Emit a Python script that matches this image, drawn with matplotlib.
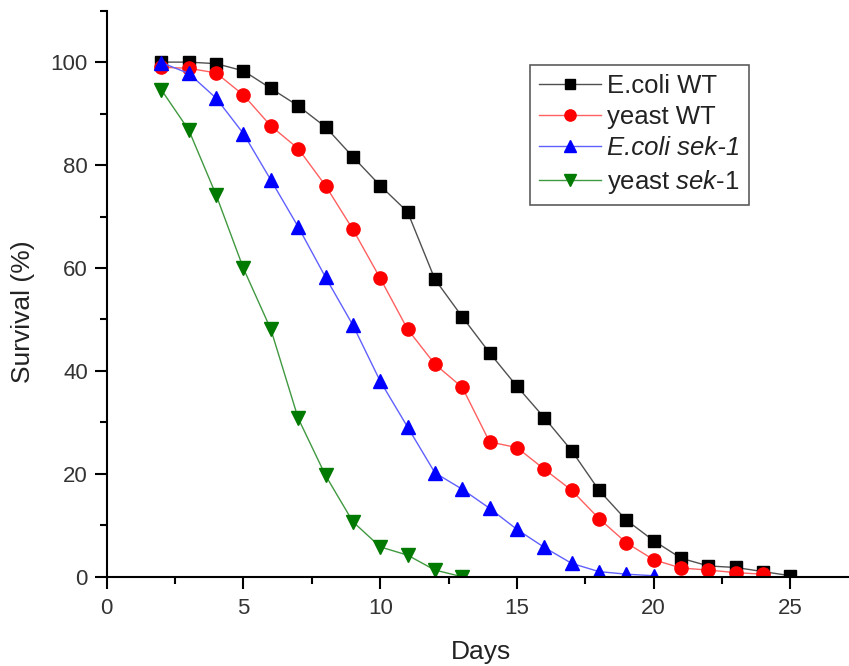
import matplotlib
matplotlib.use('Agg')
import matplotlib.pyplot as plt
from matplotlib.ticker import MultipleLocator

plt.rcParams['font.family'] = ['Liberation Sans', 'DejaVu Sans']
plt.rcParams['mathtext.fontset'] = 'custom'
plt.rcParams['mathtext.rm'] = 'Liberation Sans'
plt.rcParams['mathtext.it'] = 'Liberation Sans:italic'

# survival curves, % alive per day
days_ecoli_wt = [2, 3, 4, 5, 6, 7, 8, 9, 10, 11, 12, 13, 14, 15, 16, 17, 18, 19, 20, 21, 22, 23, 24, 25]
ecoli_wt = [100, 100, 99.7, 98.3, 94.9, 91.5, 87.4, 81.6, 76.0, 70.9, 57.8, 50.5, 43.5, 37.0, 30.9, 24.5,
            16.8, 11.0, 7.0, 3.6, 2.1, 1.8, 1.0, 0.2]

days_yeast_wt = [2, 3, 4, 5, 6, 7, 8, 9, 10, 11, 12, 13, 14, 15, 16, 17, 18, 19, 20, 21, 22, 23, 24]
yeast_wt = [99.0, 98.8, 97.9, 93.6, 87.6, 83.2, 76.0, 67.5, 58.0, 48.1, 41.3, 36.8, 26.2, 25.1, 20.9,
            16.8, 11.3, 6.6, 3.3, 1.7, 1.3, 0.8, 0.5]

days_ecoli_sek = [2, 3, 4, 5, 6, 7, 8, 9, 10, 11, 12, 13, 14, 15, 16, 17, 18, 19, 20]
ecoli_sek = [99.9, 97.8, 93.0, 86.1, 77.1, 68.0, 58.2, 48.9, 38.0, 29.1, 20.2, 17.0, 13.3, 9.2, 5.7,
             2.6, 1.0, 0.5, 0.2]

days_yeast_sek = [2, 3, 4, 5, 6, 7, 8, 9, 10, 11, 12, 13]
yeast_sek = [94.6, 86.8, 74.2, 59.9, 48.1, 30.8, 19.7, 10.7, 5.8, 4.2, 1.3, 0]

fig = plt.figure(figsize=(8.49, 6.66), dpi=100)
ax = fig.add_axes([0.1257, 0.134, 0.8743, 0.85])

ax.plot(days_ecoli_wt, ecoli_wt, color='#505050', lw=1.0, marker='s', ms=8.5,
        mfc='black', mec='black', label='E.coli WT')
ax.plot(days_yeast_wt, yeast_wt, color='#ff6060', lw=1.0, marker='o', ms=9.5,
        mfc='red', mec='red', label='yeast WT')
ax.plot(days_ecoli_sek, ecoli_sek, color='#6060ff', lw=1.0, marker='^', ms=9.5,
        mfc='blue', mec='blue', label='E.coli sek-1')
ax.plot(days_yeast_sek, yeast_sek, color='#409940', lw=1.0, marker='v', ms=9.5,
        mfc='#007a00', mec='#007a00', label=r'yeast $\mathit{sek}$-$\mathit{1}$')

ax.set_xlim(0, 27.14)
ax.set_ylim(0, 110)
ax.spines['top'].set_visible(False)
ax.spines['right'].set_visible(False)
for s in ('left', 'bottom'):
    ax.spines[s].set_linewidth(1.5)

ax.xaxis.set_major_locator(MultipleLocator(5))
ax.xaxis.set_minor_locator(MultipleLocator(2.5))
ax.yaxis.set_major_locator(MultipleLocator(20))
ax.yaxis.set_minor_locator(MultipleLocator(10))
ax.set_yticks([0, 20, 40, 60, 80, 100])
ax.tick_params(which='major', direction='out', length=8.5, width=1.5, labelsize=16,
               labelcolor='#333333', pad=5)
ax.tick_params(axis='x', which='major', pad=7)
ax.tick_params(which='minor', direction='out', length=5, width=1.5)

ax.set_xlabel('Days', fontsize=19, color='#222222')
ax.set_ylabel('Survival (%)', fontsize=19, color='#222222')
ax.xaxis.set_label_coords(0.504, -0.112)
ax.yaxis.set_label_coords(-0.097, 0.469)

leg = ax.legend(loc='upper left', bbox_to_anchor=(530 / 849, 1 - 65 / 666),
                bbox_transform=fig.transFigure, fontsize=18.5, frameon=True, fancybox=False,
                borderaxespad=0, handlelength=2.4, handletextpad=0.25, labelspacing=0.28,
                borderpad=0.35, markerscale=0.85)
leg.get_frame().set_edgecolor('#333333')
leg.get_frame().set_linewidth(1.2)
leg.get_texts()[2].set_style('italic')
for t in leg.get_texts():
    t.set_color('#222222')

fig.savefig('out.png', dpi=100)
